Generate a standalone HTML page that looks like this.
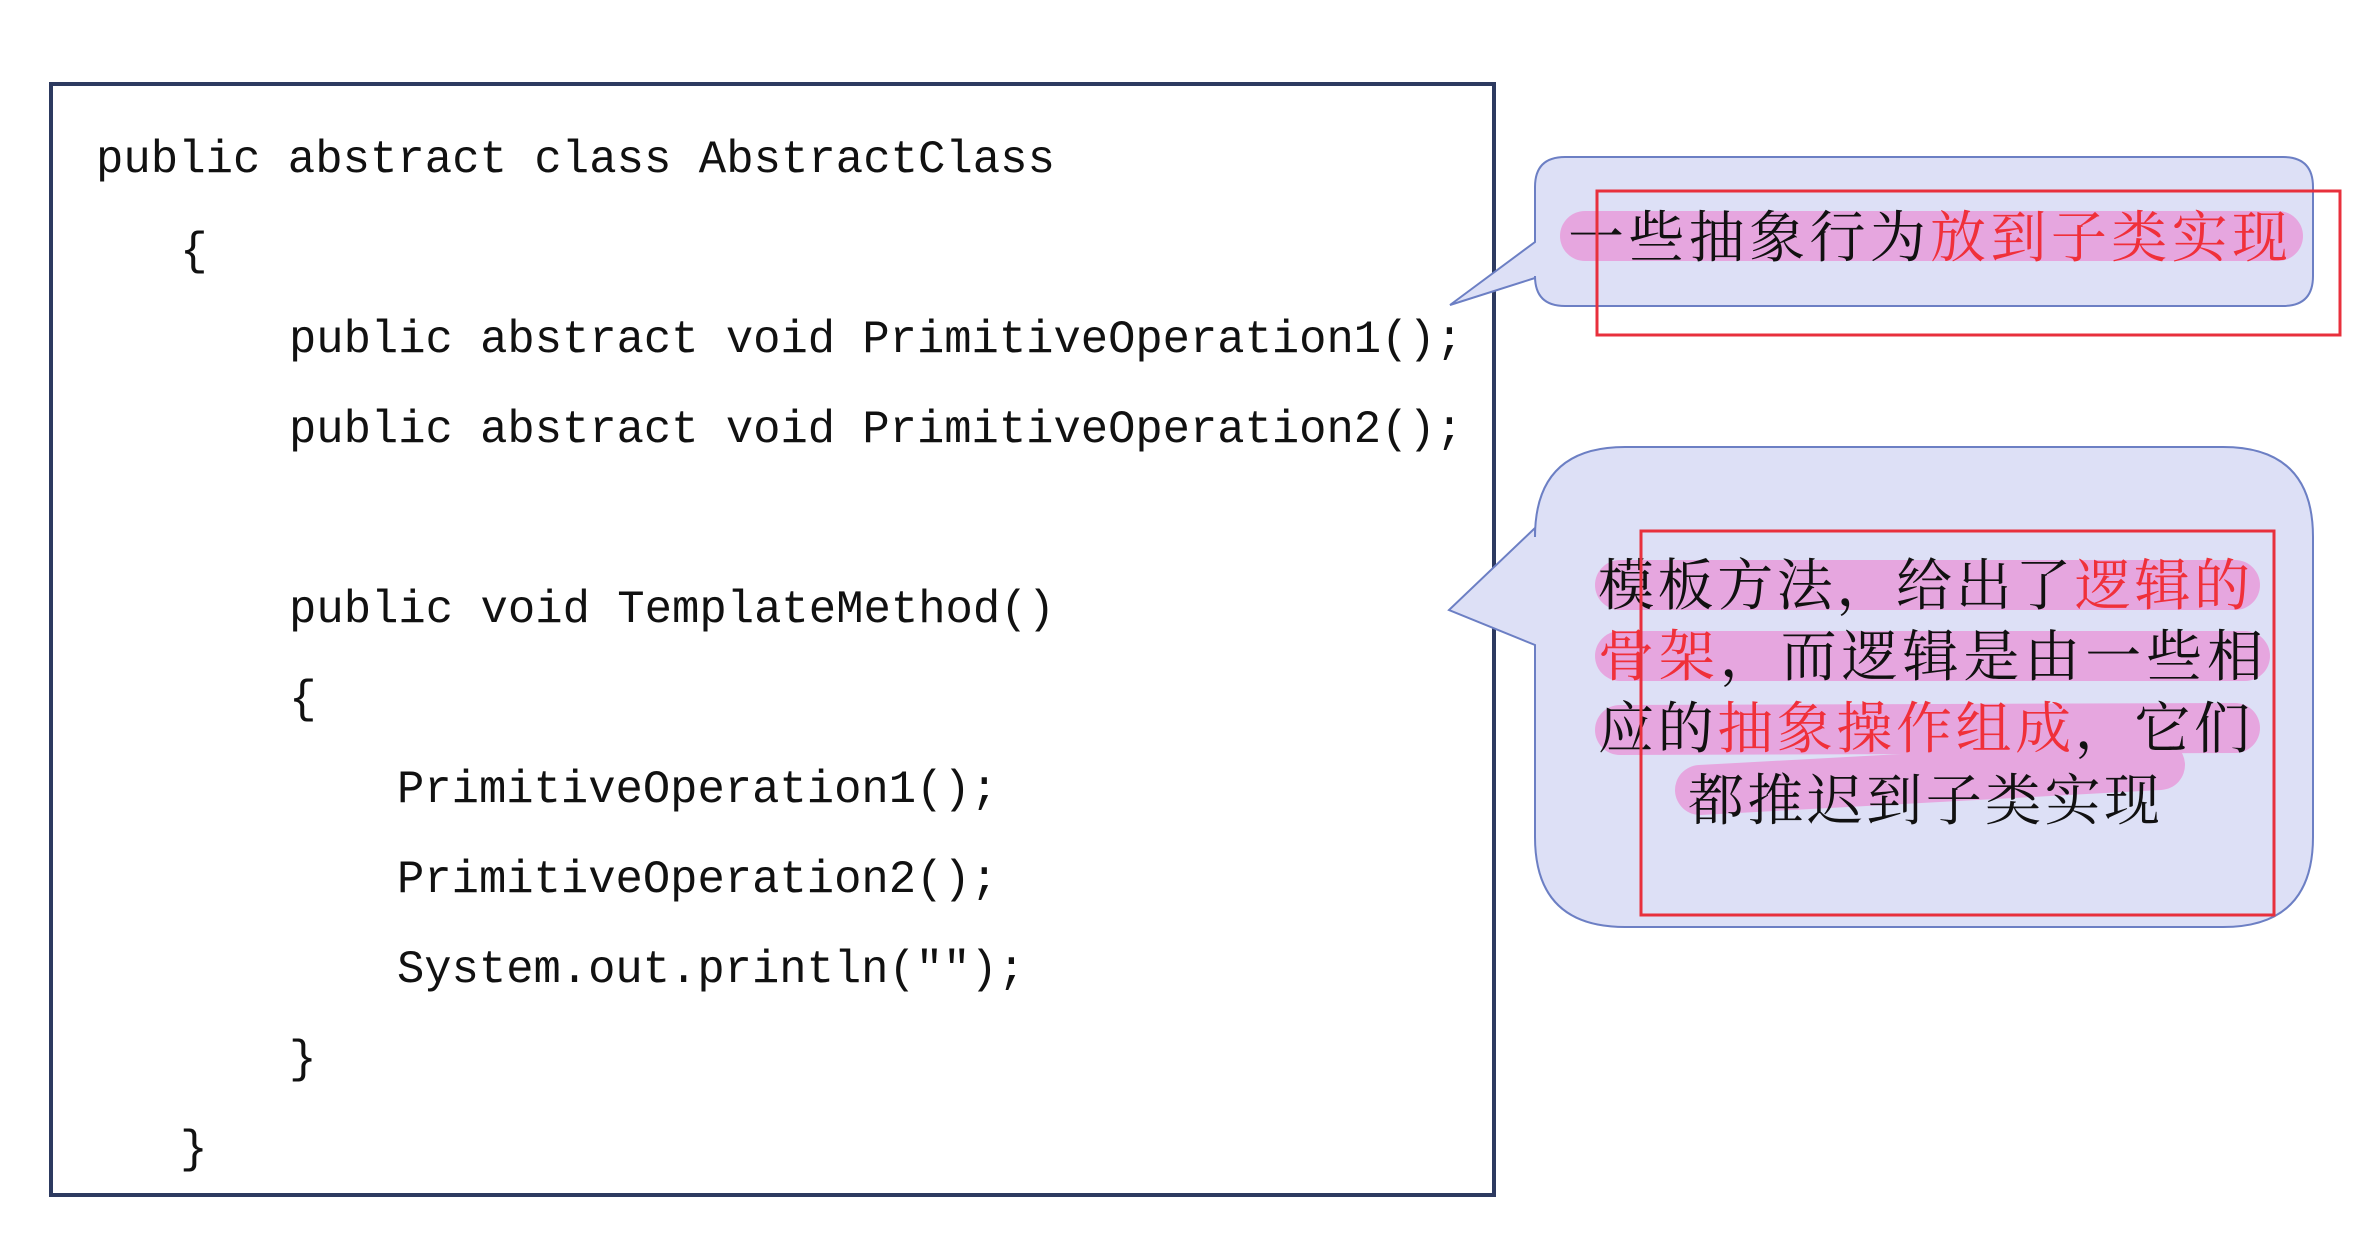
<!DOCTYPE html>
<html><head><meta charset="utf-8"><style>html,body{margin:0;padding:0;background:#fff}svg{display:block}</style></head>
<body>
<svg width="2353" height="1245" viewBox="0 0 2353 1245" xmlns="http://www.w3.org/2000/svg">
<rect x="0" y="0" width="2353" height="1245" fill="#fff"/>
<rect x="51" y="84" width="1443" height="1111" fill="#fff" stroke="#2d3a60" stroke-width="4"/>
<g font-family="'Liberation Mono', monospace" font-size="46" fill="#111">
<text x="96" y="172" textLength="959" lengthAdjust="spacingAndGlyphs">public abstract class AbstractClass</text>
<text x="180" y="264">{</text>
<text x="289" y="352" textLength="1174" lengthAdjust="spacingAndGlyphs">public abstract void PrimitiveOperation1();</text>
<text x="289" y="442" textLength="1174" lengthAdjust="spacingAndGlyphs">public abstract void PrimitiveOperation2();</text>
<text x="289" y="622" textLength="766" lengthAdjust="spacingAndGlyphs">public void TemplateMethod()</text>
<text x="289" y="712">{</text>
<text x="397" y="802" textLength="601" lengthAdjust="spacingAndGlyphs">PrimitiveOperation1();</text>
<text x="397" y="892" textLength="601" lengthAdjust="spacingAndGlyphs">PrimitiveOperation2();</text>
<text x="397" y="982" textLength="628" lengthAdjust="spacingAndGlyphs">System.out.println("");</text>
<text x="289" y="1072">}</text>
<text x="180" y="1162">}</text>
</g>
<!-- callout 1 -->
<path d="M1565,157 H2283 Q2313,157 2313,187 V276 Q2313,306 2283,306 H1565 Q1535,306 1535,276 V278 L1450,305 L1535,242 V187 Q1535,157 1565,157 Z" fill="#dde0f6" stroke="#6c7fc4" stroke-width="2"/>
<line x1="1585" y1="236" x2="2278" y2="236" stroke="#e6a6df" stroke-width="50" stroke-linecap="round"/>
<g font-family="'Liberation Serif','Noto Serif CJK SC',serif" font-size="56">
<text x="1568" y="257" textLength="720" lengthAdjust="spacing"><tspan fill="#111">一些抽象行为</tspan><tspan fill="#f0303a">放到子类实现</tspan></text>
</g>
<rect x="1597" y="191" width="743" height="144" fill="none" stroke="#e8303c" stroke-width="3"/>
<!-- callout 2 -->
<path d="M1625,447 H2223 Q2313,447 2313,537 V837 Q2313,927 2223,927 H1625 Q1535,927 1535,837 V645 L1449,610 L1535,528 V537 Q1535,447 1625,447 Z" fill="#dde0f6" stroke="#6c7fc4" stroke-width="2"/>
<g stroke="#e6a6df" stroke-width="50" stroke-linecap="round">
<line x1="1620" y1="585" x2="2235" y2="585"/>
<line x1="1620" y1="656" x2="2245" y2="656"/>
<line x1="1620" y1="730" x2="2235" y2="728"/>
<line x1="1700" y1="790" x2="2160" y2="765"/>
</g>
<g font-family="'Liberation Serif','Noto Serif CJK SC',serif" font-size="56">
<text x="1598" y="605" textLength="652" lengthAdjust="spacing"><tspan fill="#111">模板方法，给出了</tspan><tspan fill="#f0303a">逻辑的</tspan></text>
<text x="1598" y="676" textLength="665" lengthAdjust="spacing"><tspan fill="#f0303a">骨架</tspan><tspan fill="#111">，而逻辑是由一些相</tspan></text>
<text x="1598" y="748" textLength="652" lengthAdjust="spacing"><tspan fill="#111">应的</tspan><tspan fill="#f0303a">抽象操作组成</tspan><tspan fill="#111">，它们</tspan></text>
<text x="1688" y="820" textLength="472" lengthAdjust="spacing" fill="#111">都推迟到子类实现</text>
</g>
<rect x="1641" y="531" width="633" height="384" fill="none" stroke="#e8303c" stroke-width="3"/>
</svg>
</body></html>
